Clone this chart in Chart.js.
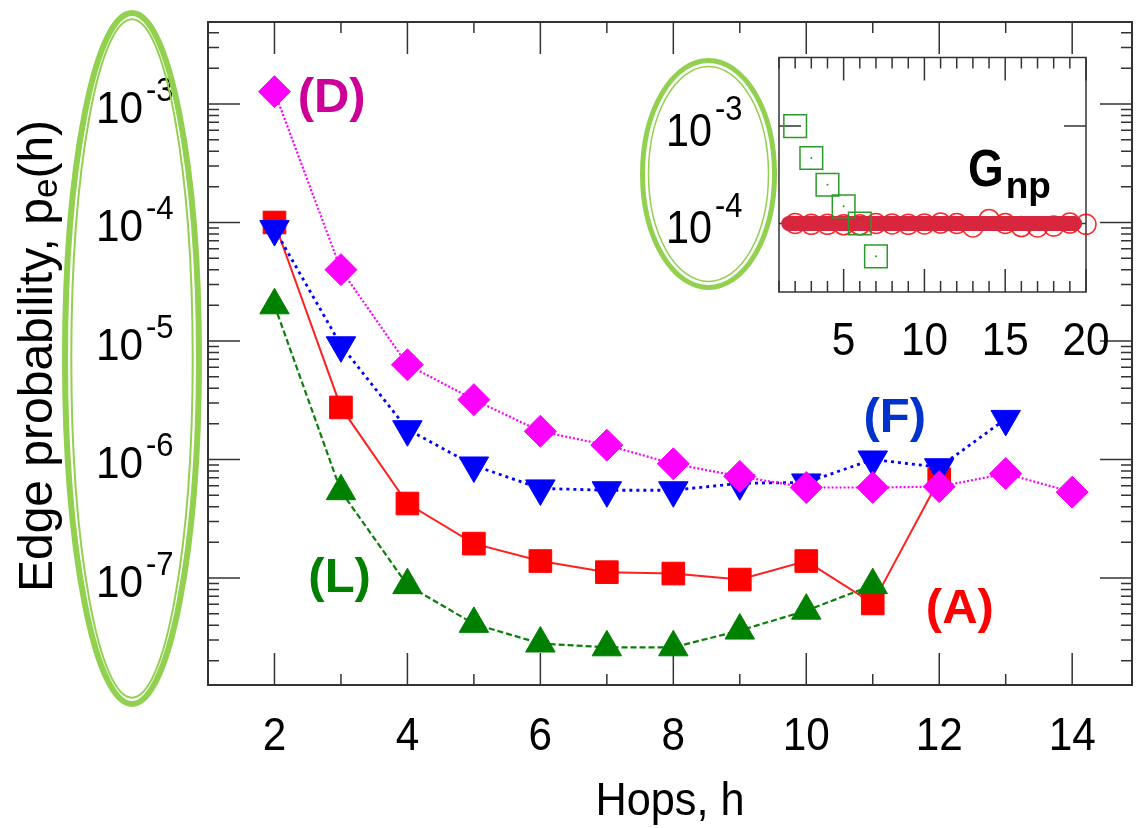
<!DOCTYPE html>
<html>
<head>
<meta charset="utf-8">
<script src="https://cdn.jsdelivr.net/npm/chart.js@4.4.1/dist/chart.umd.min.js"></script>
<style>
  html, body { margin: 0; padding: 0; background: #fff; overflow: hidden; }
  #wrap { position: relative; width: 1138px; height: 828px; overflow: hidden; }
  #mainBox { position: absolute; left: 0; top: 0; width: 1150px; height: 828px; }
  #insetBox { position: absolute; left: 630px; top: 40px; width: 480px; height: 330px; }
</style>
</head>
<body>
<div id="wrap">
  <div id="mainBox"><canvas id="mainChart"></canvas></div>
  <div id="insetBox"><canvas id="insetChart"></canvas></div>
</div>
<script>
// main plot data (hops h = 2..14)
const hops = [2, 3, 4, 5, 6, 7, 8, 9, 10, 11, 12, 13, 14];
const seriesD = [1.27e-3, 4.0e-5, 6.3e-6, 3.2e-6, 1.73e-6, 1.32e-6, 9.2e-7, 7.2e-7, 5.8e-7, 5.8e-7, 5.9e-7, 7.6e-7, 5.3e-7];
const seriesF = [8.8e-5, 9.2e-6, 1.8e-6, 8.9e-7, 5.7e-7, 5.5e-7, 5.5e-7, 6.3e-7, 6.4e-7, 1.0e-6, 8.6e-7, 2.2e-6];
const seriesA = [1.0e-4, 2.75e-6, 4.25e-7, 1.95e-7, 1.39e-7, 1.12e-7, 1.09e-7, 9.7e-8, 1.39e-7, 6.1e-8, 6.8e-7];
const seriesL = [2.0e-5, 5.4e-7, 8.7e-8, 4.1e-8, 2.8e-8, 2.6e-8, 2.6e-8, 3.6e-8, 5.3e-8, 8.7e-8];
const xTickLabels = [2, 4, 6, 8, 10, 12, 14];
const yTickExp = [-3, -4, -5, -6, -7];

// inset (G_np)
const gnpHops = [2, 3, 4, 5, 6, 7, 8, 9, 10, 11, 12, 13, 14, 15, 16, 17, 18, 19, 20];
const gnpCircles = [1.0e-4, 0.98e-4, 0.98e-4, 0.97e-4, 0.97e-4, 1.0e-4, 0.99e-4, 0.98e-4, 0.99e-4, 1.01e-4,
                    1.0e-4, 0.92e-4, 1.1e-4, 1.0e-4, 0.93e-4, 0.92e-4, 0.94e-4, 1.01e-4, 0.98e-4];
const gnpBandX = [1.6, 19.3];
const gnpBandY = [1.0e-4, 1.0e-4];
const sqHops = [2, 3, 4, 5, 6, 7];
const sqValues = [1.0e-3, 4.7e-4, 2.5e-4, 1.5e-4, 1.0e-4, 4.6e-5];
const insetXTicks = [5, 10, 15, 20];
const insetYExp = [-3, -4];

const FONT = '"Liberation Sans", Arial, sans-serif';

const notes = [
  { text: '(D)', x: 2.86, y: 8.6e-4, color: '#cc0099' },
  { text: '(L)', x: 2.98, y: 7.6e-8, color: '#008000' },
  { text: '(F)', x: 11.33, y: 1.72e-6, color: '#0033cc' },
  { text: '(A)', x: 12.31, y: 4.2e-8, color: '#ff0000' }
];

function pts(xs, ys) {
  return ys.map((v, i) => ({ x: xs[i], y: v }));
}

// text squeezed horizontally (the original uses a narrow face)
function narrowText(ctx, text, x, y, sx) {
  ctx.save();
  ctx.translate(x, y);
  ctx.scale(sx, 1);
  ctx.fillText(text, 0, 0);
  ctx.restore();
}

function ring(ctx, cx, cy, rx, ry, outerW, innerW, gap) {
  ctx.save();
  ctx.strokeStyle = '#92d050';
  ctx.lineWidth = outerW;
  ctx.beginPath();
  ctx.ellipse(cx, cy, rx, ry, 0, 0, Math.PI * 2);
  ctx.stroke();
  ctx.lineWidth = innerW;
  ctx.beginPath();
  ctx.ellipse(cx, cy, rx - gap, ry - gap, 0, 0, Math.PI * 2);
  ctx.stroke();
  ctx.restore();
}

function powLabel(ctx, xr, py, exp, big, small, dyBase, dySup, sx) {
  ctx.fillStyle = '#000';
  ctx.textBaseline = 'alphabetic';
  ctx.font = big + 'px ' + FONT;
  ctx.textAlign = 'right';
  narrowText(ctx, '10', xr, py + dyBase, sx);
  ctx.font = small + 'px ' + FONT;
  ctx.textAlign = 'left';
  narrowText(ctx, String(exp), xr + 3, py + dySup, sx);
}

const mainDecor = {
  id: 'mainDecor',
  beforeDatasetsDraw(chart) {
    const { ctx, chartArea: a, scales: { x, y } } = chart;
    ctx.save();
    ctx.strokeStyle = '#333';
    ctx.lineWidth = 1.5;
    ctx.beginPath();
    for (let h = 1; h <= 15; h++) {
      const px = x.getPixelForValue(h);
      if (px < a.left - 0.5 || px > a.right + 0.5) continue;
      const len = h % 2 === 0 ? 32 : 11;
      ctx.moveTo(px, a.bottom); ctx.lineTo(px, a.bottom - len);
      ctx.moveTo(px, a.top); ctx.lineTo(px, a.top + len);
    }
    for (let e = -9; e <= -2; e++) {
      for (let m = 1; m <= 9; m++) {
        const v = m * Math.pow(10, e);
        if (v < y.min || v > y.max) continue;
        const py = y.getPixelForValue(v);
        const len = m === 1 ? 32 : 11;
        ctx.moveTo(a.left, py); ctx.lineTo(a.left + len, py);
        ctx.moveTo(a.right, py); ctx.lineTo(a.right - len, py);
      }
    }
    ctx.stroke();
    ctx.lineWidth = 2;
    ctx.strokeRect(a.left, a.top, a.right - a.left, a.bottom - a.top);
    ctx.restore();
  },
  afterDraw(chart) {
    const { ctx, chartArea: a, scales: { x, y } } = chart;
    ctx.save();
    // y tick labels 10^-n
    yTickExp.forEach(e => {
      powLabel(ctx, a.left - 65, y.getPixelForValue(Math.pow(10, e)), e, 45, 33, 19, -3, 0.94);
    });
    // x tick labels
    ctx.font = '46px ' + FONT;
    ctx.textAlign = 'center';
    ctx.fillStyle = '#000';
    xTickLabels.forEach(h => narrowText(ctx, String(h), x.getPixelForValue(h), a.bottom + 65, 0.92));
    // x title
    ctx.font = '46px ' + FONT;
    narrowText(ctx, 'Hops, h', (a.left + a.right) / 2, 815, 0.94);
    // y title with subscript
    const parts = [['Edge probability, p', 48, 0], ['e', 35, 5], ['(h)', 48, 0]];
    let total = 0;
    parts.forEach(p => { ctx.font = p[1] + 'px ' + FONT; total += ctx.measureText(p[0]).width; });
    ctx.translate(52, 356);
    ctx.rotate(-Math.PI / 2);
    ctx.textAlign = 'left';
    let cx = -total / 2;
    parts.forEach(p => {
      ctx.font = p[1] + 'px ' + FONT;
      ctx.fillText(p[0], cx, p[2]);
      cx += ctx.measureText(p[0]).width;
    });
    ctx.restore();

    ctx.save();
    ctx.font = 'bold 49px ' + FONT;
    ctx.textAlign = 'center';
    notes.forEach(n => {
      ctx.fillStyle = n.color;
      ctx.fillText(n.text, x.getPixelForValue(n.x), y.getPixelForValue(n.y));
    });
    ctx.restore();

    ring(ctx, 132, 358.5, 67, 345.5, 6, 2, 6.3);
  }
};

new Chart(document.getElementById('mainChart'), {
  type: 'line',
  data: {
    datasets: [
      {
        label: '(D)', data: pts(hops, seriesD),
        borderColor: '#ff00ff', borderWidth: 2.2, borderDash: [2, 2],
        pointStyle: 'rectRot', pointRadius: 16,
        pointBackgroundColor: '#ff00ff', pointBorderColor: '#ff00ff', pointBorderWidth: 1
      },
      {
        label: '(F)', data: pts(hops, seriesF),
        borderColor: '#0000ff', borderWidth: 2.8, borderDash: [3, 4],
        pointStyle: 'triangle', rotation: 180, pointRadius: 17,
        pointBackgroundColor: '#0000ff', pointBorderColor: '#0000ff', pointBorderWidth: 1
      },
      {
        label: '(L)', data: pts(hops, seriesL),
        borderColor: '#0a800a', borderWidth: 2.2, borderDash: [6, 3],
        pointStyle: 'triangle', pointRadius: 17,
        pointBackgroundColor: '#008000', pointBorderColor: '#008000', pointBorderWidth: 1
      },
      {
        label: '(A)', data: pts(hops, seriesA),
        borderColor: '#ff2020', borderWidth: 2,
        pointStyle: 'rect', pointRadius: 16,
        pointBackgroundColor: '#ff0000', pointBorderColor: '#ff0000', pointBorderWidth: 1
      }
    ]
  },
  options: {
    responsive: true,
    maintainAspectRatio: false,
    animation: false,
    devicePixelRatio: 1,
    layout: { padding: { left: 208, top: 22, right: 4, bottom: 143 } },
    plugins: { legend: { display: false }, tooltip: { enabled: false } },
    scales: {
      x: { type: 'linear', min: 1, max: 14.9, display: false },
      y: { type: 'logarithmic', min: 1.25e-8, max: 4.92e-3, display: false }
    }
  },
  plugins: [mainDecor]
});

const insetDecor = {
  id: 'insetDecor',
  beforeDraw(chart) {
    const { ctx, chartArea: a } = chart;
    ctx.save();
    ctx.fillStyle = '#fff';
    ctx.fillRect(a.left, a.top, a.right - a.left, a.bottom - a.top);
    ctx.restore();
  },
  beforeDatasetsDraw(chart) {
    const { ctx, chartArea: a, scales: { x, y } } = chart;
    ctx.save();
    ctx.strokeStyle = '#333';
    ctx.lineWidth = 1.5;
    ctx.beginPath();
    for (let h = 1; h <= 20; h++) {
      const px = x.getPixelForValue(h);
      const len = h % 5 === 0 ? 23 : 11;
      ctx.moveTo(px, a.bottom); ctx.lineTo(px, a.bottom - len);
      ctx.moveTo(px, a.top); ctx.lineTo(px, a.top + len);
    }
    insetYExp.forEach(e => {
      const py = y.getPixelForValue(Math.pow(10, e));
      ctx.moveTo(a.left, py); ctx.lineTo(a.left + 22, py);
      ctx.moveTo(a.right, py); ctx.lineTo(a.right - 22, py);
    });
    ctx.stroke();
    ctx.strokeRect(a.left, a.top, a.right - a.left, a.bottom - a.top);
    ctx.restore();
  },
  afterDraw(chart) {
    const { ctx, chartArea: a, scales: { x, y } } = chart;
    ctx.save();
    ctx.fillStyle = '#000';
    ctx.font = '46px ' + FONT;
    ctx.textAlign = 'center';
    insetXTicks.forEach(h => narrowText(ctx, String(h), x.getPixelForValue(h), a.bottom + 63, 0.92));
    insetYExp.forEach(e => {
      powLabel(ctx, a.left - 67, y.getPixelForValue(Math.pow(10, e)), e, 47, 35, 20, -6, 0.88);
    });
    // G_np
    ctx.fillStyle = '#000';
    ctx.textAlign = 'left';
    ctx.font = 'bold 51px ' + FONT;
    const gx = x.getPixelForValue(12.7);
    const gy = y.getPixelForValue(2.44e-4);
    narrowText(ctx, 'G', gx, gy, 0.9);
    const gw = ctx.measureText('G').width * 0.9;
    ctx.font = 'bold 37px ' + FONT;
    ctx.fillText('np', gx + gw + 2, gy + 12);
    ctx.restore();

    ring(ctx, 78.5, 134, 66, 113.5, 5, 1.5, 6);
  }
};

new Chart(document.getElementById('insetChart'), {
  type: 'line',
  data: {
    datasets: [
      {
        label: 'sq-dot', data: pts(sqHops, sqValues), showLine: false,
        pointStyle: 'circle', pointRadius: 1, pointBackgroundColor: '#2a9a2a', pointBorderWidth: 0, clip: false
      },
      {
        label: 'squares', data: pts(sqHops, sqValues), showLine: false,
        pointStyle: 'rect', pointRadius: 16, pointBackgroundColor: 'rgba(0,0,0,0)',
        pointBorderColor: '#2a9a2a', pointBorderWidth: 1.5, clip: false
      },
      {
        label: 'band', data: pts(gnpBandX, gnpBandY),
        borderColor: '#d7263d', borderWidth: 15, borderCapStyle: 'round', pointRadius: 0, clip: false
      },
      {
        label: 'Gnp', data: pts(gnpHops, gnpCircles), showLine: false,
        pointStyle: 'circle', pointRadius: 10, pointBackgroundColor: 'rgba(0,0,0,0)',
        pointBorderColor: 'rgba(255,0,0,0.85)', pointBorderWidth: 1.5, clip: false
      }
    ]
  },
  options: {
    responsive: true,
    maintainAspectRatio: false,
    animation: false,
    devicePixelRatio: 1,
    layout: { padding: { left: 149, top: 16, right: 24, bottom: 78 } },
    plugins: { legend: { display: false }, tooltip: { enabled: false } },
    scales: {
      x: { type: 'linear', min: 1, max: 20, display: false },
      y: { type: 'logarithmic', min: 1.98e-5, max: 5.06e-3, display: false }
    }
  },
  plugins: [insetDecor]
});
</script>
</body>
</html>
